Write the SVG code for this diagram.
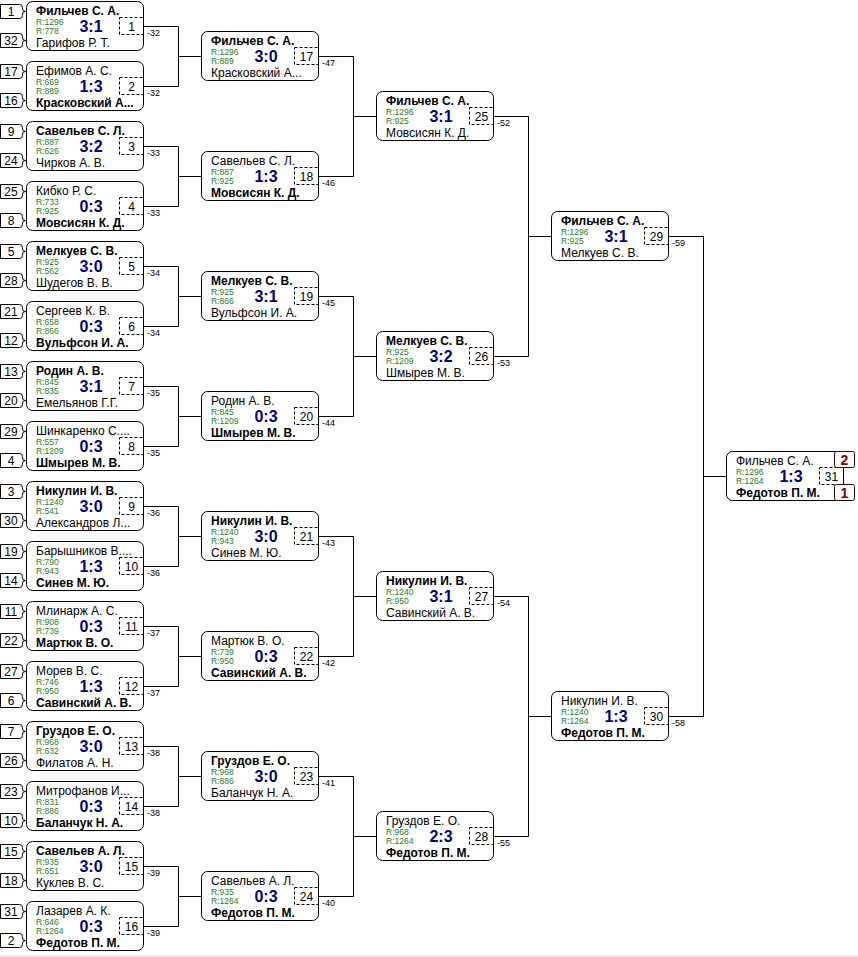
<svg xmlns="http://www.w3.org/2000/svg" xmlns:xlink="http://www.w3.org/1999/xlink" width="858" height="957" viewBox="0 0 858 957">
<style>
.box{fill:#fff;stroke:#000;stroke-width:1}
.num{fill:none;stroke:#000;stroke-width:1;stroke-dasharray:3,2}
.seed{fill:#fff;stroke:#000;stroke-width:1}
text{font-family:"Liberation Sans",Arial,sans-serif;fill:#000}
.n{font-size:12px}
.b{font-weight:bold}
.r{font-size:8.5px;fill:#1a7f1a}
.s{font-size:16px;font-weight:bold;fill:#000080;text-anchor:middle}
.id{font-size:12px;text-anchor:middle}
.sd{font-size:12px;text-anchor:middle}
.l{font-size:9px}
.med{fill:#fff;stroke:#3a0000;stroke-width:1}
.mt{font-size:14px;font-weight:bold;fill:#800000;text-anchor:middle}
.c{fill:none;stroke:#000;stroke-width:1}
</style>
<defs>
<path id="sp" class="seed" d="M0.5,-7 H19.5 Q22.5,-7 22.5,-4 V-2.5 Q22.5,0 25.5,0 Q22.5,0 22.5,2.5 V4 Q22.5,7 19.5,7 H0.5 Z"/>
<g id="frame">
<rect class="box" x="0.5" y="0.5" width="117" height="49" rx="6"/>
<rect class="num" x="93.5" y="16.5" width="24" height="17"/>
</g>
</defs>
<rect x="0" y="0" width="858" height="957" fill="#fff"/>
<rect x="0" y="955" width="858" height="2" fill="#f0f0f0"/>

<g id="connectors">
<path class="c" d="M143.5,26.5H178.5V86.5H143.5M178.5,56.5H201"/>
<path class="c" d="M143.5,146.5H178.5V206.5H143.5M178.5,176.5H201"/>
<path class="c" d="M143.5,266.5H178.5V326.5H143.5M178.5,296.5H201"/>
<path class="c" d="M143.5,386.5H178.5V446.5H143.5M178.5,416.5H201"/>
<path class="c" d="M143.5,506.5H178.5V566.5H143.5M178.5,536.5H201"/>
<path class="c" d="M143.5,626.5H178.5V686.5H143.5M178.5,656.5H201"/>
<path class="c" d="M143.5,746.5H178.5V806.5H143.5M178.5,776.5H201"/>
<path class="c" d="M143.5,866.5H178.5V926.5H143.5M178.5,896.5H201"/>
<path class="c" d="M318.5,56.5H353.5V176.5H318.5M353.5,116.5H376"/>
<path class="c" d="M318.5,296.5H353.5V416.5H318.5M353.5,356.5H376"/>
<path class="c" d="M318.5,536.5H353.5V656.5H318.5M353.5,596.5H376"/>
<path class="c" d="M318.5,776.5H353.5V896.5H318.5M353.5,836.5H376"/>
<path class="c" d="M493.5,116.5H528.5V356.5H493.5M528.5,236.5H551"/>
<path class="c" d="M493.5,596.5H528.5V836.5H493.5M528.5,716.5H551"/>
<path class="c" d="M668.5,236.5H703.5V716.5H668.5M703.5,476.5H726"/>
</g>

<g id="seeds">
<g id="seed-m1"><use xlink:href="#sp" y="11.5"/><text class="sd" x="11" y="16">1</text><use xlink:href="#sp" y="40.5"/><text class="sd" x="11" y="45">32</text></g>
<g id="seed-m2"><use xlink:href="#sp" y="71.5"/><text class="sd" x="11" y="76">17</text><use xlink:href="#sp" y="100.5"/><text class="sd" x="11" y="105">16</text></g>
<g id="seed-m3"><use xlink:href="#sp" y="131.5"/><text class="sd" x="11" y="136">9</text><use xlink:href="#sp" y="160.5"/><text class="sd" x="11" y="165">24</text></g>
<g id="seed-m4"><use xlink:href="#sp" y="191.5"/><text class="sd" x="11" y="196">25</text><use xlink:href="#sp" y="220.5"/><text class="sd" x="11" y="225">8</text></g>
<g id="seed-m5"><use xlink:href="#sp" y="251.5"/><text class="sd" x="11" y="256">5</text><use xlink:href="#sp" y="280.5"/><text class="sd" x="11" y="285">28</text></g>
<g id="seed-m6"><use xlink:href="#sp" y="311.5"/><text class="sd" x="11" y="316">21</text><use xlink:href="#sp" y="340.5"/><text class="sd" x="11" y="345">12</text></g>
<g id="seed-m7"><use xlink:href="#sp" y="371.5"/><text class="sd" x="11" y="376">13</text><use xlink:href="#sp" y="400.5"/><text class="sd" x="11" y="405">20</text></g>
<g id="seed-m8"><use xlink:href="#sp" y="431.5"/><text class="sd" x="11" y="436">29</text><use xlink:href="#sp" y="460.5"/><text class="sd" x="11" y="465">4</text></g>
<g id="seed-m9"><use xlink:href="#sp" y="491.5"/><text class="sd" x="11" y="496">3</text><use xlink:href="#sp" y="520.5"/><text class="sd" x="11" y="525">30</text></g>
<g id="seed-m10"><use xlink:href="#sp" y="551.5"/><text class="sd" x="11" y="556">19</text><use xlink:href="#sp" y="580.5"/><text class="sd" x="11" y="585">14</text></g>
<g id="seed-m11"><use xlink:href="#sp" y="611.5"/><text class="sd" x="11" y="616">11</text><use xlink:href="#sp" y="640.5"/><text class="sd" x="11" y="645">22</text></g>
<g id="seed-m12"><use xlink:href="#sp" y="671.5"/><text class="sd" x="11" y="676">27</text><use xlink:href="#sp" y="700.5"/><text class="sd" x="11" y="705">6</text></g>
<g id="seed-m13"><use xlink:href="#sp" y="731.5"/><text class="sd" x="11" y="736">7</text><use xlink:href="#sp" y="760.5"/><text class="sd" x="11" y="765">26</text></g>
<g id="seed-m14"><use xlink:href="#sp" y="791.5"/><text class="sd" x="11" y="796">23</text><use xlink:href="#sp" y="820.5"/><text class="sd" x="11" y="825">10</text></g>
<g id="seed-m15"><use xlink:href="#sp" y="851.5"/><text class="sd" x="11" y="856">15</text><use xlink:href="#sp" y="880.5"/><text class="sd" x="11" y="885">18</text></g>
<g id="seed-m16"><use xlink:href="#sp" y="911.5"/><text class="sd" x="11" y="916">31</text><use xlink:href="#sp" y="940.5"/><text class="sd" x="11" y="945">2</text></g>
</g>

<!-- Round 1 -->
<g id="m1" transform="translate(26,1)"><use xlink:href="#frame"/><text class="n b" x="10" y="13.5">Фильчев С. А.</text><text class="r" x="10" y="23.8">R:1296</text><text class="r" x="10" y="33.4">R:778</text><text class="s" x="65" y="31">3:1</text><text class="n" x="10" y="46.3">Гарифов Р. Т.</text><text class="id" x="105.5" y="29.5">1</text><text class="l" x="121" y="35">-32</text></g>
<g id="m2" transform="translate(26,61)"><use xlink:href="#frame"/><text class="n" x="10" y="13.5">Ефимов А. С.</text><text class="r" x="10" y="23.8">R:669</text><text class="r" x="10" y="33.4">R:889</text><text class="s" x="65" y="31">1:3</text><text class="n b" x="10" y="46.3">Красковский А...</text><text class="id" x="105.5" y="29.5">2</text><text class="l" x="121" y="35">-32</text></g>
<g id="m3" transform="translate(26,121)"><use xlink:href="#frame"/><text class="n b" x="10" y="13.5">Савельев С. Л.</text><text class="r" x="10" y="23.8">R:887</text><text class="r" x="10" y="33.4">R:626</text><text class="s" x="65" y="31">3:2</text><text class="n" x="10" y="46.3">Чирков А. В.</text><text class="id" x="105.5" y="29.5">3</text><text class="l" x="121" y="35">-33</text></g>
<g id="m4" transform="translate(26,181)"><use xlink:href="#frame"/><text class="n" x="10" y="13.5">Кибко Р. С.</text><text class="r" x="10" y="23.8">R:733</text><text class="r" x="10" y="33.4">R:925</text><text class="s" x="65" y="31">0:3</text><text class="n b" x="10" y="46.3">Мовсисян К. Д.</text><text class="id" x="105.5" y="29.5">4</text><text class="l" x="121" y="35">-33</text></g>
<g id="m5" transform="translate(26,241)"><use xlink:href="#frame"/><text class="n b" x="10" y="13.5">Мелкуев С. В.</text><text class="r" x="10" y="23.8">R:925</text><text class="r" x="10" y="33.4">R:562</text><text class="s" x="65" y="31">3:0</text><text class="n" x="10" y="46.3">Шудегов В. В.</text><text class="id" x="105.5" y="29.5">5</text><text class="l" x="121" y="35">-34</text></g>
<g id="m6" transform="translate(26,301)"><use xlink:href="#frame"/><text class="n" x="10" y="13.5">Сергеев К. В.</text><text class="r" x="10" y="23.8">R:658</text><text class="r" x="10" y="33.4">R:866</text><text class="s" x="65" y="31">0:3</text><text class="n b" x="10" y="46.3">Вульфсон И. А.</text><text class="id" x="105.5" y="29.5">6</text><text class="l" x="121" y="35">-34</text></g>
<g id="m7" transform="translate(26,361)"><use xlink:href="#frame"/><text class="n b" x="10" y="13.5">Родин А. В.</text><text class="r" x="10" y="23.8">R:845</text><text class="r" x="10" y="33.4">R:835</text><text class="s" x="65" y="31">3:1</text><text class="n" x="10" y="46.3">Емельянов Г.Г.</text><text class="id" x="105.5" y="29.5">7</text><text class="l" x="121" y="35">-35</text></g>
<g id="m8" transform="translate(26,421)"><use xlink:href="#frame"/><text class="n" x="10" y="13.5">Шинкаренко С....</text><text class="r" x="10" y="23.8">R:557</text><text class="r" x="10" y="33.4">R:1209</text><text class="s" x="65" y="31">0:3</text><text class="n b" x="10" y="46.3">Шмырев М. В.</text><text class="id" x="105.5" y="29.5">8</text><text class="l" x="121" y="35">-35</text></g>
<g id="m9" transform="translate(26,481)"><use xlink:href="#frame"/><text class="n b" x="10" y="13.5">Никулин И. В.</text><text class="r" x="10" y="23.8">R:1240</text><text class="r" x="10" y="33.4">R:541</text><text class="s" x="65" y="31">3:0</text><text class="n" x="10" y="46.3">Александров Л...</text><text class="id" x="105.5" y="29.5">9</text><text class="l" x="121" y="35">-36</text></g>
<g id="m10" transform="translate(26,541)"><use xlink:href="#frame"/><text class="n" x="10" y="13.5">Барышников В....</text><text class="r" x="10" y="23.8">R:790</text><text class="r" x="10" y="33.4">R:943</text><text class="s" x="65" y="31">1:3</text><text class="n b" x="10" y="46.3">Синев М. Ю.</text><text class="id" x="105.5" y="29.5">10</text><text class="l" x="121" y="35">-36</text></g>
<g id="m11" transform="translate(26,601)"><use xlink:href="#frame"/><text class="n" x="10" y="13.5">Млинарж А. С.</text><text class="r" x="10" y="23.8">R:908</text><text class="r" x="10" y="33.4">R:739</text><text class="s" x="65" y="31">0:3</text><text class="n b" x="10" y="46.3">Мартюк В. О.</text><text class="id" x="105.5" y="29.5">11</text><text class="l" x="121" y="35">-37</text></g>
<g id="m12" transform="translate(26,661)"><use xlink:href="#frame"/><text class="n" x="10" y="13.5">Морев В. С.</text><text class="r" x="10" y="23.8">R:746</text><text class="r" x="10" y="33.4">R:950</text><text class="s" x="65" y="31">1:3</text><text class="n b" x="10" y="46.3">Савинский А. В.</text><text class="id" x="105.5" y="29.5">12</text><text class="l" x="121" y="35">-37</text></g>
<g id="m13" transform="translate(26,721)"><use xlink:href="#frame"/><text class="n b" x="10" y="13.5">Груздов Е. О.</text><text class="r" x="10" y="23.8">R:968</text><text class="r" x="10" y="33.4">R:632</text><text class="s" x="65" y="31">3:0</text><text class="n" x="10" y="46.3">Филатов А. Н.</text><text class="id" x="105.5" y="29.5">13</text><text class="l" x="121" y="35">-38</text></g>
<g id="m14" transform="translate(26,781)"><use xlink:href="#frame"/><text class="n" x="10" y="13.5">Митрофанов И...</text><text class="r" x="10" y="23.8">R:831</text><text class="r" x="10" y="33.4">R:886</text><text class="s" x="65" y="31">0:3</text><text class="n b" x="10" y="46.3">Баланчук Н. А.</text><text class="id" x="105.5" y="29.5">14</text><text class="l" x="121" y="35">-38</text></g>
<g id="m15" transform="translate(26,841)"><use xlink:href="#frame"/><text class="n b" x="10" y="13.5">Савельев А. Л.</text><text class="r" x="10" y="23.8">R:935</text><text class="r" x="10" y="33.4">R:651</text><text class="s" x="65" y="31">3:0</text><text class="n" x="10" y="46.3">Куклев В. С.</text><text class="id" x="105.5" y="29.5">15</text><text class="l" x="121" y="35">-39</text></g>
<g id="m16" transform="translate(26,901)"><use xlink:href="#frame"/><text class="n" x="10" y="13.5">Лазарев А. К.</text><text class="r" x="10" y="23.8">R:646</text><text class="r" x="10" y="33.4">R:1264</text><text class="s" x="65" y="31">0:3</text><text class="n b" x="10" y="46.3">Федотов П. М.</text><text class="id" x="105.5" y="29.5">16</text><text class="l" x="121" y="35">-39</text></g>

<!-- Round 2 -->
<g id="m17" transform="translate(201,31)"><use xlink:href="#frame"/><text class="n b" x="10" y="13.5">Фильчев С. А.</text><text class="r" x="10" y="23.8">R:1296</text><text class="r" x="10" y="33.4">R:889</text><text class="s" x="65" y="31">3:0</text><text class="n" x="10" y="46.3">Красковский А...</text><text class="id" x="105.5" y="29.5">17</text><text class="l" x="121" y="35">-47</text></g>
<g id="m18" transform="translate(201,151)"><use xlink:href="#frame"/><text class="n" x="10" y="13.5">Савельев С. Л.</text><text class="r" x="10" y="23.8">R:887</text><text class="r" x="10" y="33.4">R:925</text><text class="s" x="65" y="31">1:3</text><text class="n b" x="10" y="46.3">Мовсисян К. Д.</text><text class="id" x="105.5" y="29.5">18</text><text class="l" x="121" y="35">-46</text></g>
<g id="m19" transform="translate(201,271)"><use xlink:href="#frame"/><text class="n b" x="10" y="13.5">Мелкуев С. В.</text><text class="r" x="10" y="23.8">R:925</text><text class="r" x="10" y="33.4">R:866</text><text class="s" x="65" y="31">3:1</text><text class="n" x="10" y="46.3">Вульфсон И. А.</text><text class="id" x="105.5" y="29.5">19</text><text class="l" x="121" y="35">-45</text></g>
<g id="m20" transform="translate(201,391)"><use xlink:href="#frame"/><text class="n" x="10" y="13.5">Родин А. В.</text><text class="r" x="10" y="23.8">R:845</text><text class="r" x="10" y="33.4">R:1209</text><text class="s" x="65" y="31">0:3</text><text class="n b" x="10" y="46.3">Шмырев М. В.</text><text class="id" x="105.5" y="29.5">20</text><text class="l" x="121" y="35">-44</text></g>
<g id="m21" transform="translate(201,511)"><use xlink:href="#frame"/><text class="n b" x="10" y="13.5">Никулин И. В.</text><text class="r" x="10" y="23.8">R:1240</text><text class="r" x="10" y="33.4">R:943</text><text class="s" x="65" y="31">3:0</text><text class="n" x="10" y="46.3">Синев М. Ю.</text><text class="id" x="105.5" y="29.5">21</text><text class="l" x="121" y="35">-43</text></g>
<g id="m22" transform="translate(201,631)"><use xlink:href="#frame"/><text class="n" x="10" y="13.5">Мартюк В. О.</text><text class="r" x="10" y="23.8">R:739</text><text class="r" x="10" y="33.4">R:950</text><text class="s" x="65" y="31">0:3</text><text class="n b" x="10" y="46.3">Савинский А. В.</text><text class="id" x="105.5" y="29.5">22</text><text class="l" x="121" y="35">-42</text></g>
<g id="m23" transform="translate(201,751)"><use xlink:href="#frame"/><text class="n b" x="10" y="13.5">Груздов Е. О.</text><text class="r" x="10" y="23.8">R:968</text><text class="r" x="10" y="33.4">R:886</text><text class="s" x="65" y="31">3:0</text><text class="n" x="10" y="46.3">Баланчук Н. А.</text><text class="id" x="105.5" y="29.5">23</text><text class="l" x="121" y="35">-41</text></g>
<g id="m24" transform="translate(201,871)"><use xlink:href="#frame"/><text class="n" x="10" y="13.5">Савельев А. Л.</text><text class="r" x="10" y="23.8">R:935</text><text class="r" x="10" y="33.4">R:1264</text><text class="s" x="65" y="31">0:3</text><text class="n b" x="10" y="46.3">Федотов П. М.</text><text class="id" x="105.5" y="29.5">24</text><text class="l" x="121" y="35">-40</text></g>

<!-- Round 3 -->
<g id="m25" transform="translate(376,91)"><use xlink:href="#frame"/><text class="n b" x="10" y="13.5">Фильчев С. А.</text><text class="r" x="10" y="23.8">R:1296</text><text class="r" x="10" y="33.4">R:925</text><text class="s" x="65" y="31">3:1</text><text class="n" x="10" y="46.3">Мовсисян К. Д.</text><text class="id" x="105.5" y="29.5">25</text><text class="l" x="121" y="35">-52</text></g>
<g id="m26" transform="translate(376,331)"><use xlink:href="#frame"/><text class="n b" x="10" y="13.5">Мелкуев С. В.</text><text class="r" x="10" y="23.8">R:925</text><text class="r" x="10" y="33.4">R:1209</text><text class="s" x="65" y="31">3:2</text><text class="n" x="10" y="46.3">Шмырев М. В.</text><text class="id" x="105.5" y="29.5">26</text><text class="l" x="121" y="35">-53</text></g>
<g id="m27" transform="translate(376,571)"><use xlink:href="#frame"/><text class="n b" x="10" y="13.5">Никулин И. В.</text><text class="r" x="10" y="23.8">R:1240</text><text class="r" x="10" y="33.4">R:950</text><text class="s" x="65" y="31">3:1</text><text class="n" x="10" y="46.3">Савинский А. В.</text><text class="id" x="105.5" y="29.5">27</text><text class="l" x="121" y="35">-54</text></g>
<g id="m28" transform="translate(376,811)"><use xlink:href="#frame"/><text class="n" x="10" y="13.5">Груздов Е. О.</text><text class="r" x="10" y="23.8">R:968</text><text class="r" x="10" y="33.4">R:1264</text><text class="s" x="65" y="31">2:3</text><text class="n b" x="10" y="46.3">Федотов П. М.</text><text class="id" x="105.5" y="29.5">28</text><text class="l" x="121" y="35">-55</text></g>

<!-- Round 4 -->
<g id="m29" transform="translate(551,211)"><use xlink:href="#frame"/><text class="n b" x="10" y="13.5">Фильчев С. А.</text><text class="r" x="10" y="23.8">R:1296</text><text class="r" x="10" y="33.4">R:925</text><text class="s" x="65" y="31">3:1</text><text class="n" x="10" y="46.3">Мелкуев С. В.</text><text class="id" x="105.5" y="29.5">29</text><text class="l" x="121" y="35">-59</text></g>
<g id="m30" transform="translate(551,691)"><use xlink:href="#frame"/><text class="n" x="10" y="13.5">Никулин И. В.</text><text class="r" x="10" y="23.8">R:1240</text><text class="r" x="10" y="33.4">R:1264</text><text class="s" x="65" y="31">1:3</text><text class="n b" x="10" y="46.3">Федотов П. М.</text><text class="id" x="105.5" y="29.5">30</text><text class="l" x="121" y="35">-58</text></g>

<!-- Final -->
<g id="m31" transform="translate(726,451)"><use xlink:href="#frame"/><text class="n" x="10" y="13.5">Фильчев С. А.</text><text class="r" x="10" y="23.8">R:1296</text><text class="r" x="10" y="33.4">R:1264</text><text class="s" x="65" y="31">1:3</text><text class="n b" x="10" y="46.3">Федотов П. М.</text><text class="id" x="105.5" y="29.5">31</text>
<rect class="med" x="108.5" y="0.5" width="20" height="16" rx="2"/><text class="mt" x="118.5" y="14">2</text>
<rect class="med" x="108.5" y="33.5" width="20" height="16" rx="2"/><text class="mt" x="118.5" y="47">1</text>
</g>
</svg>
